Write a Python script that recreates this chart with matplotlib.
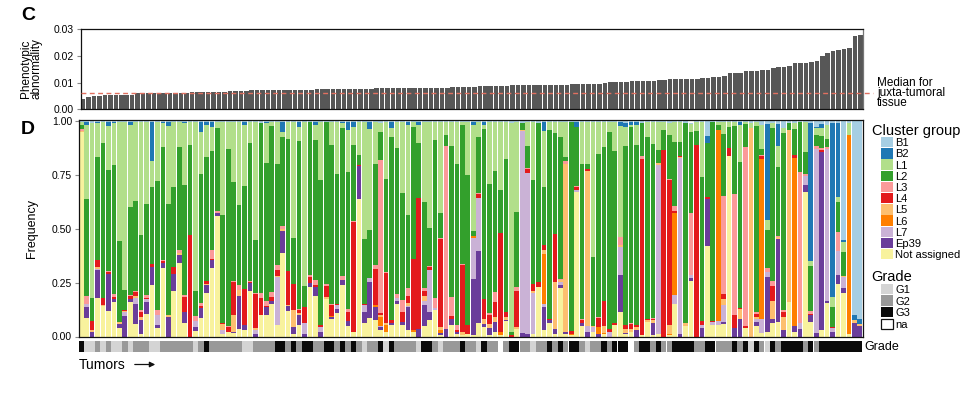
import matplotlib.pyplot as plt
from matplotlib.patches import Rectangle, FancyArrowPatch
import numpy as np

plt.rcParams['font.family'] = ['Liberation Sans', 'DejaVu Sans']

W, H = 966, 395

# ---- panel C: phenotypic abnormality per tumour (sorted) ----
abnormality = [
    .0039, .0047, .0051, .0051, .0055, .0055, .0055, .0055, .0055, .0055, .0060, .0060,
    .0060, .0060, .0060, .0060, .0060, .0060, .0060, .0060, .0065, .0065, .0065, .0065,
    .0065, .0065, .0065, .0069, .0069, .0069, .0069, .0072, .0072, .0072, .0072, .0072,
    .0072, .0072, .0072, .0072, .0072, .0072, .0072, .0076, .0076, .0076, .0076, .0076,
    .0076, .0076, .0076, .0076, .0076, .0076, .0080, .0080, .0080, .0080, .0080, .0080,
    .0080, .0080, .0080, .0080, .0080, .0080, .0080, .0080, .0084, .0084, .0084, .0084,
    .0084, .0087, .0087, .0087, .0087, .0087, .0087, .0091, .0091, .0091, .0091, .0091,
    .0091, .0091, .0091, .0091, .0091, .0091, .0095, .0095, .0095, .0095, .0095, .0095,
    .0097, .0102, .0102, .0102, .0102, .0106, .0106, .0106, .0106, .0106, .0110, .0110,
    .0114, .0114, .0114, .0114, .0114, .0114, .0117, .0117, .0121, .0121, .0125, .0136,
    .0136, .0136, .0144, .0144, .0144, .0147, .0147, .0155, .0159, .0159, .0162, .0174,
    .0174, .0174, .0177, .0181, .0200, .0211, .0219, .0222, .0226, .0230, .0275, .0279,
]
median_juxta = 0.006

# ---- panel D: cluster group frequencies per tumour ----
not_assigned = [
    .95, .085, 0, .18, .14, .12, .16, .04, 0, .16, .06, .01,
    .105, .24, .04, .32, 0, .21, .34, .062, 0, .025, .085, .2,
    .32, .56, .012, .02, .017, .035, .028, .21, 0, .1, .1, .15,
    .055, .39, .12, .01, .054, 0, .23, .19, 0, .175, .08, .11,
    .24, .048, .023, .64, .063, .085, .075, .03, .02, .055, .15, .055,
    .03, .02, 0, .048, .075, .125, .005, 0, .055, .012, .008, .012,
    .008, .065, .043, .005, .023, .008, .07, 0, .035, 0, 0, .012,
    .23, .028, .064, .012, .225, .012, .005, .67, .05, 0, .02, 0,
    .012, 0, .054, .116, .01, .02, 0, .005, .067, .005, .012, 0,
    .005, .15, 0, .05, .26, 0, 0, .42, .054, .054, .06, .84,
    0, 0, .039, 0, .05, .017, .023, .064, .067, 0, .16, .02,
    0, .67, .067, 0, .028, .155, 0, .245, .2, .012, 0, 0,
]
ep39 = [
    0, .05, .02, .13, 0, .17, .012, .017, .095, .015, .09, .065,
    .057, .085, .012, .023, .09, .08, .04, .05, 0, .018, .047, .04,
    .034, .015, 0, 0, .004, .155, .026, .037, .012, 0, .036, .015,
    0, .1, .02, .035, .046, .012, .02, .04, .023, 0, .011, .016,
    .023, .026, 0, .15, .05, .17, .06, .015, 0, .01, .016, .012,
    .105, 0, .033, .1, .04, 0, .01, .036, .025, .008, 0, 0,
    .26, .33, .016, .035, .046, 0, .005, 0, 0, .015, .012, 0,
    0, .11, .011, .023, .012, .011, 0, 0, .012, .02, 0, .012,
    0, 0, 0, .17, .005, 0, .028, 0, 0, .06, 0, 0,
    0, 0, .012, 0, .011, 0, .04, .22, 0, 0, .008, 0,
    .04, .082, 0, 0, .016, 0, .255, .015, .387, .028, 0, .03,
    .035, .034, .034, .017, .829, .012, .02, .04, .025, 0, .065, .05,
]
l7 = [
    0, .015, 0, .005, 0, 0, 0, 0, .02, 0, .03, 0,
    .012, 0, .05, 0, 0, 0, 0, 0, 0, .03, 0, 0,
    0, 0, .02, 0, 0, 0, 0, 0, .019, 0, 0, 0,
    .22, 0, 0, 0, 0, .05, 0, 0, .02, 0, 0, .019,
    0, 0, 0, 0, .035, .015, 0, .005, 0, 0, .015, 0,
    .008, 0, 0, .016, .195, .006, 0, 0, 0, 0, 0, 0,
    .19, .25, 0, 0, 0, 0, 0, 0, 0, .94, .75, .19,
    0, .015, 0, 0, .016, 0, 0, .011, 0, .03, .026, 0,
    0, .02, 0, .13, 0, 0, 0, 0, 0, 0, .785, 0,
    0, .045, .818, 0, .015, 0, .014, 0, .012, .016, .08, 0,
    0, 0, 0, 0, .015, .062, .023, 0, 0, 0, 0, 0,
    .03, .04, 0, .853, 0, .705, .02, .11, .05, 0, 0, 0,
]
l6 = [
    0, 0, 0, 0, 0, 0, 0, 0, 0, 0, 0, 0,
    0, 0, 0, 0, 0, 0, 0, 0, 0, 0, 0, 0,
    0, 0, 0, 0, 0, 0, 0, 0, 0, 0, 0, 0,
    0, 0, 0, 0, 0, 0, 0, 0, 0, 0, .004, 0,
    0, 0, 0, 0, 0, 0, .01, .04, .035, 0, 0, 0,
    0, .012, 0, 0, 0, 0, .015, 0, 0, 0, 0, 0,
    .011, 0, 0, 0, 0, .012, 0, 0, 0, 0, 0, 0,
    0, .23, 0, 0, 0, 0, .008, 0, 0, 0, 0, .033,
    .005, 0, 0, 0, 0, 0, 0, 0, 0, 0, 0, 0,
    .005, .38, 0, 0, 0, 0, 0, 0, 0, .89, 0, 0,
    0, 0, 0, 0, 0, .744, 0, 0, 0, 0, 0, .78,
    0, 0, 0, 0, 0, 0, 0, 0, 0, .925, 0, 0,
]
l5 = [
    .005, 0, .008, .01, .008, 0, 0, .01, .004, 0, .008, .015,
    0, 0, 0, 0, .008, 0, .008, 0, 0, 0, 0, .004,
    0, 0, .026, 0, .08, .026, 0, 0, .008, 0, 0, 0,
    .005, .008, .008, .08, .01, 0, 0, 0, 0, .008, 0, 0,
    0, 0, 0, 0, 0, 0, 0, .012, .01, 0, 0, 0,
    .012, 0, 0, .023, 0, 0, .015, 0, 0, 0, .012, 0,
    0, 0, .023, .02, .023, 0, .015, 0, .008, .005, 0, .008,
    0, .02, 0, .22, .008, .78, 0, 0, 0, .72, .005, 0,
    .03, 0, 0, .008, .02, .016, .016, 0, .008, .011, .008, 0,
    .045, 0, .005, .012, 0, 0, 0, 0, 0, 0, .025, 0,
    0, .045, 0, .97, .008, 0, 0, .085, .008, .062, .8, 0,
    0, 0, 0, 0, 0, 0, 0, 0, .008, 0, .013, .01,
]
l4 = [
    0, 0, .042, .03, .03, .008, .01, 0, .005, .012, .02, .023,
    .005, .01, 0, .008, 0, .035, 0, .073, .47, 0, .012, .014,
    .005, 0, .005, .023, .15, 0, .167, .008, .16, .077, .008, .02,
    .03, 0, .155, .12, .015, .073, .028, .008, .012, .05, .05, .008,
    0, .042, .51, .005, .005, 0, .17, .008, .23, .01, 0, .046,
    .035, .33, .61, .026, .011, 0, .41, 0, .015, .01, .31, .04,
    0, .015, .09, .04, .07, .46, .023, .005, .17, 0, .015, .035,
    .023, .023, .005, .22, 0, 0, .011, .015, .015, .008, 0, .04,
    .12, .015, .01, 0, .02, .023, .008, .82, .005, .005, 0, .865,
    .67, .01, .005, 0, 0, .89, .02, .008, .008, 0, .023, .035,
    .06, .006, .01, 0, .016, .015, 0, .07, 0, .023, 0, .015,
    0, 0, .005, 0, .008, 0, .005, 0, 0, 0, 0, 0,
]
l3 = [
    .01, .04, 0, 0, 0, .005, .015, 0, 0, .005, .005, .01,
    .012, 0, .02, .004, 0, 0, .012, .008, 0, .02, .01, 0,
    .043, .008, 0, .004, .005, .025, 0, .005, .005, .026, .02, .02,
    .02, .015, .003, 0, .004, 0, .01, .023, 0, .012, .008, 0,
    .018, .01, .005, 0, 0, .003, .015, .71, .005, 0, .016, .055,
    .035, 0, 0, .012, .008, .047, .005, .85, .09, .023, .005, 0,
    0, .005, 0, .01, .046, 0, 0, 0, .015, 0, .008, 0,
    0, 0, 0, 0, .008, .011, 0, .005, .003, 0, 0, .005,
    0, 0, 0, .04, 0, .005, 0, .015, .003, .003, 0, 0,
    .005, .02, 0, 0, .29, 0, 0, 0, 0, 0, .455, 0,
    .56, 0, .83, 0, .008, .005, .016, .026, .005, .011, 0, 0,
    .7, .011, .011, .015, .01, .008, 0, .09, 0, 0, 0, 0,
]
l2 = [
    .02, .45, .11, .48, .72, .47, .6, .375, .09, .41, .417, .35,
    .424, .36, .6, .525, .52, .37, .48, .51, .42, .12, .6, .575,
    .46, .385, .5, .823, .464, .37, .476, .64, .245, .79, .64, .775,
    .47, .415, .61, .215, .78, .1, .707, .65, .67, .75, .737, .6,
    .69, .64, .35, .05, .3, .22, .47, .13, .43, .85, .68, .5,
    .34, .613, .255, .4, .175, .733, .115, .05, .7, .75, .65, .7,
    .02, .26, .79, .6, .56, .2, .71, .015, .35, .03, .1, .48,
    .74, .27, .88, .47, .66, .02, .971, .274, .72, .022, .32, .76,
    .715, .915, .8, 0, .83, .911, .838, .15, .845, .811, .06, .095,
    .205, .3, .065, .928, .375, .065, .666, .252, .921, .023, .29, .1,
    .318, .68, .108, 0, .866, .027, .18, .71, .32, .82, .03, .12,
    .23, .1, .21, .05, .055, .04, .09, .14, .11, 0, 0, 0,
]
l1 = [
    .01, .345, .81, .155, .097, .207, .193, .553, .781, .38, .365, .522,
    .38, .12, .273, .11, .36, .3, .115, .287, .105, .782, .196, .152,
    .113, .027, .432, .125, .275, .384, .288, .095, .546, 0, .186, .015,
    .195, .022, .079, .535, .066, .76, 0, .074, .27, 0, .105, .242,
    .019, .193, .087, .15, .542, .472, .195, .04, .265, .045, .118, .327,
    .42, .02, .085, .37, .491, .084, .42, .059, .11, .192, .01, .243,
    .496, .07, .023, .285, .227, .315, .172, .97, .417, 0, .11, .27,
    0, .26, .035, .05, .066, .161, 0, 0, .195, .195, .624, .145,
    .113, .045, .131, .516, .09, .01, .095, 0, .067, .1, .13, .035,
    .055, .09, .09, 0, .035, .04, .255, 0, 0, .012, .054, .02,
    .017, .172, .008, .02, .016, .115, .045, .02, .1, .026, 0, .025,
    0, .14, .023, .035, .04, .065, .05, .025, .045, .053, 0, 0,
]
b2 = [
    0, .01, 0, .005, 0, .015, .005, 0, 0, .013, 0, 0,
    0, .18, 0, .005, .017, 0, 0, .005, 0, 0, .045, .01,
    .02, 0, 0, 0, 0, 0, .01, 0, 0, 0, .005, 0,
    0, .045, 0, 0, .02, 0, 0, .01, 0, 0, 0, 0,
    .005, .036, .02, 0, 0, .03, 0, 0, 0, .025, 0, 0,
    .01, 0, .012, 0, 0, 0, 0, 0, 0, 0, 0, 0,
    .01, 0, .01, 0, 0, 0, 0, 0, 0, 0, 0, 0,
    0, .04, 0, 0, 0, 0, 0, .02, 0, 0, 0, 0,
    0, 0, 0, .015, .015, .01, .01, 0, 0, 0, 0, 0,
    0, 0, 0, 0, 0, 0, 0, .03, 0, 0, 0, 0,
    0, .01, 0, 0, 0, 0, .445, 0, .1, 0, 0, 0,
    0, 0, .64, .005, .018, 0, .805, .34, .012, 0, .022, .02,
]
b1 = [
    .005, .005, .01, .005, .005, .005, .005, .005, .005, .005, .005, .005,
    .005, .005, .005, .005, .005, .005, .005, .005, .005, .005, .005, .005,
    .005, .005, .005, .005, .005, .005, .005, .005, .005, .007, .005, .005,
    .005, .005, .005, .005, .005, .005, .005, .005, .005, .005, .005, .005,
    .005, .005, .005, .005, .005, .005, .005, .01, .005, .005, .005, .005,
    .005, .005, .005, .005, .005, .005, .005, .005, .005, .005, .005, .005,
    .005, .005, .005, .005, .005, .005, .005, .01, .005, .01, .005, .005,
    .007, .004, .005, .005, .005, .005, .005, .005, .005, .005, .005, .005,
    .005, .005, .005, .005, .01, .005, .005, .01, .005, .005, .005, .005,
    .01, .005, .005, .01, .005, .005, .005, .07, .005, .005, .005, .005,
    .005, .005, .005, .01, .005, .015, .013, .01, .013, .03, .01, .01,
    .005, .005, .01, .025, .012, .015, .01, .01, .55, .01, .9, .92,
]

grade = [
    'G3', 'G1', 'G1', 'G2', 'G1', 'G2', 'G1', 'G1', 'G2', 'G1', 'G2', 'G2',
    'G2', 'G1', 'G1', 'G2', 'G2', 'G2', 'G2', 'G2', 'G2', 'G1', 'G2', 'G3',
    'G2', 'G2', 'G2', 'G2', 'G2', 'G2', 'G1', 'G1', 'G2', 'G2', 'G2', 'G2',
    'G3', 'G3', 'G2', 'G3', 'G2', 'G3', 'G3', 'G2', 'G2', 'G3', 'G3', 'G2',
    'G3', 'G2', 'G3', 'G2', 'G1', 'G2', 'G2', 'G3', 'G1', 'G3', 'G2', 'G2',
    'G2', 'G2', 'G1', 'G3', 'G3', 'G2', 'G1', 'G2', 'G2', 'G2', 'G3', 'G2',
    'G2', 'G1', 'G3', 'G2', 'G2', 'na', 'G2', 'G3', 'G3', 'G2', 'G2', 'G1',
    'G2', 'G2', 'G3', 'G2', 'G3', 'G2', 'G3', 'G3', 'G2', 'G1', 'G2', 'G2',
    'G3', 'G2', 'G3', 'G3', 'G3', 'na', 'G2', 'G3', 'G3', 'G2', 'G3', 'G2',
    'G2', 'G3', 'G3', 'G3', 'G3', 'G2', 'G2', 'G3', 'G3', 'G2', 'G2', 'G2',
    'G3', 'G2', 'G3', 'G1', 'G3', 'G2', 'G1', 'G3', 'G2', 'G3', 'G3', 'G3',
    'G3', 'G2', 'G3', 'G2', 'G3', 'G3', 'G3', 'G3', 'G3', 'G3', 'G3', 'G3',
]

clusters = ['B1', 'B2', 'L1', 'L2', 'L3', 'L4', 'L5', 'L6', 'L7', 'Ep39', 'Not assigned']
cluster_colors = ['#a6cee3', '#1f78b4', '#b2df8a', '#33a02c', '#fb9a99', '#e31a1c',
                  '#fdbf6f', '#ff7f00', '#cab2d6', '#6a3d9a', '#f8f29d']
grade_levels = ['G1', 'G2', 'G3', 'na']
grade_colors = {'G1': '#d4d4d4', 'G2': '#999999', 'G3': '#0a0a0a', 'na': '#ffffff'}

# series in stacking order, bottom -> top (reverse of legend)
series = [b1, b2, l1, l2, l3, l4, l5, l6, l7, ep39, not_assigned][::-1]
series_colors = cluster_colors[::-1]


def fx(x):
    return x / W


def fy(y):
    return 1 - y / H


fig = plt.figure(figsize=(W / 100, H / 100), dpi=100)

def style_axis(ax):
    for s in ax.spines.values():
        s.set_linewidth(0.9)
        s.set_color('#111111')
    ax.tick_params(axis='y', direction='out', length=3, width=0.8, color='#888888',
                   labelsize=7.5, pad=1.5)
    ax.set_xticks([])

# ---------------- panel C ----------------
n = len(abnormality)
x = np.arange(n)
ax_c = fig.add_axes([fx(80.5), fy(109.5), (863 - 80.5) / W, 80.5 / H])
ax_c.bar(x, abnormality, width=0.84, color='#575757', linewidth=0)
ax_c.plot([-0.5, n + 1.3], [median_juxta, median_juxta], ls=(0, (3.5, 2.5)),
          color='#e07060', lw=1.0, clip_on=False, zorder=3)
ax_c.set_xlim(-0.5, n - 0.5)
ax_c.set_ylim(0, 0.03)
ax_c.set_yticks([0, 0.01, 0.02, 0.03])
ax_c.set_yticklabels(['0.00', '0.01', '0.02', '0.03'])
style_axis(ax_c)
ax_c.spines['right'].set_color('#777777')

fig.text(fx(31.5), fy(69), 'Phenotypic\nabnormality', rotation=90, ha='center',
         va='center', fontsize=8.5, linespacing=0.85)
fig.text(fx(877), fy(77), 'Median for\njuxta-tumoral\ntissue', ha='left', va='top',
         fontsize=8.5, linespacing=0.8)
fig.text(fx(21), fy(20.5), 'C', fontsize=14, fontweight='bold', ha='left', va='baseline')

# ---------------- panel D ----------------
ax_d = fig.add_axes([fx(78.5), fy(336.5), (862.5 - 78.5) / W, (336.5 - 120) / H])
bottom = np.zeros(n)
for vals, col in zip(series, series_colors):
    vals = np.array(vals)
    ax_d.bar(x, vals, bottom=bottom, width=0.84, color=col, linewidth=0)
    bottom += vals
ax_d.set_xlim(-0.5, n - 0.5)
ax_d.set_ylim(0, 1.006)
ax_d.set_yticks([0, 0.25, 0.5, 0.75, 1.0])
ax_d.set_yticklabels(['0.00', '0.25', '0.50', '0.75', '1.00'])
style_axis(ax_d)
fig.text(fx(32), fy(228), 'Frequency', rotation=90, ha='center', va='center', fontsize=9)
fig.text(fx(21), fy(134), 'D', fontsize=14, fontweight='bold', ha='left', va='baseline')

# grade strip
ax_g = fig.add_axes([fx(78.5), fy(352), (862.5 - 78.5) / W, 11 / H])
ax_g.bar(x, np.ones(n), width=1.0, color=[grade_colors[g] for g in grade], linewidth=0)
ax_g.set_xlim(-0.5, n - 0.5)
ax_g.set_ylim(0, 1)
ax_g.axis('off')
fig.text(fx(864), fy(350), 'Grade', fontsize=9, ha='left', va='baseline')

# tumours arrow
fig.text(fx(79), fy(369), 'Tumors', fontsize=10, ha='left', va='baseline')
fig.add_artist(FancyArrowPatch((fx(132), fy(364.5)), (fx(158), fy(364.5)),
                               transform=fig.transFigure, arrowstyle='-|>',
                               mutation_scale=8, lw=0.9, color='#111111'))

# ---------------- legends ----------------
fig.text(fx(871.5), fy(135.5), 'Cluster group', fontsize=10.5, ha='left', va='baseline')
for i, (name, col) in enumerate(zip(clusters, cluster_colors)):
    yc = 142.2 + 11.2 * i
    fig.add_artist(Rectangle((fx(881), fy(yc + 5.2)), 11.5 / W, 10.4 / H,
                             transform=fig.transFigure, facecolor=col, edgecolor='none'))
    fig.text(fx(895), fy(yc + 4), name, fontsize=8, ha='left', va='baseline')

fig.text(fx(871.5), fy(281), 'Grade', fontsize=10.5, ha='left', va='baseline')
for i, g in enumerate(grade_levels):
    yc = 289 + 11.6 * i
    edge = '#111111' if g == 'na' else 'none'
    fig.add_artist(Rectangle((fx(881), fy(yc + 5.2)), 11.5 / W, 10.4 / H,
                             transform=fig.transFigure, facecolor=grade_colors[g],
                             edgecolor=edge, linewidth=0.9))
    fig.text(fx(895), fy(yc + 4), g, fontsize=8, ha='left', va='baseline')

fig.savefig('out.png', dpi=100)
